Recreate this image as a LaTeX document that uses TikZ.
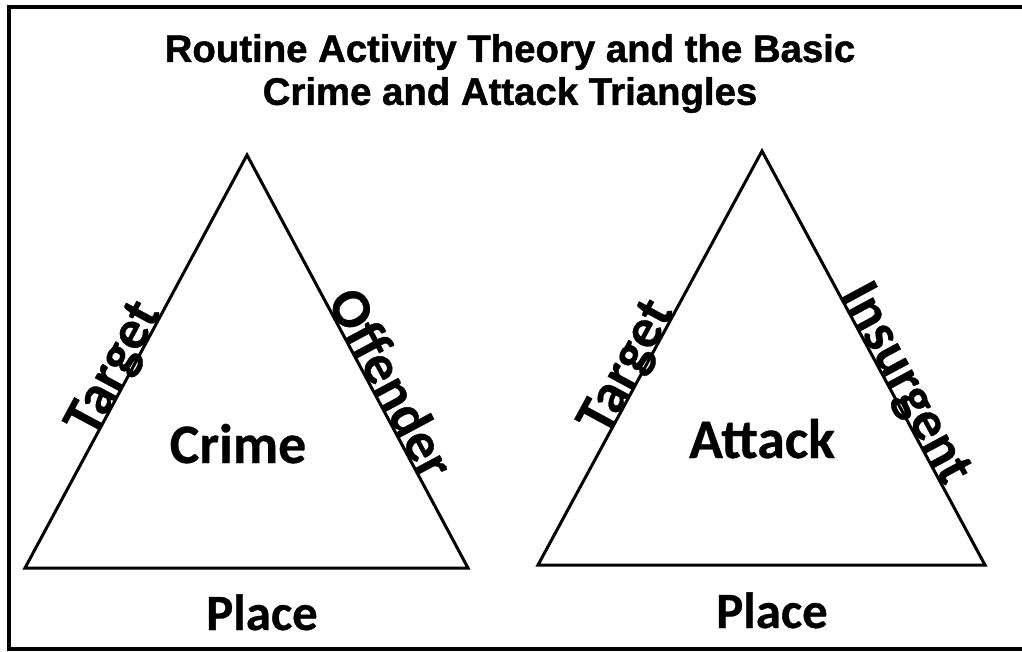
\documentclass[tikz,border=0pt]{standalone}
\usepackage{fontspec}
\setmainfont{Carlito}[BoldFeatures={FakeBold=0.6}]
\newfontfamily\titlefont{Liberation Sans}[BoldFeatures={FakeBold=1.2}]
\usetikzlibrary{positioning,calc}
\tikzset{
    frame/.style={line width=4bp, black},
    tri/.style={line width=3bp, black, line join=miter},
    title/.style={font=\titlefont\bfseries\fontsize{38.5}{43}\selectfont, align=center, inner sep=0pt},
    inner/.style={font=\bfseries\fontsize{56}{60}\selectfont, inner sep=0pt, anchor=base},
    placelabel/.style={font=\bfseries\fontsize{51}{56}\selectfont, inner sep=0pt, anchor=base},
    sidelabel/.style={font=\bfseries\fontsize{56}{60}\selectfont, sloped, above, text depth=0pt, inner sep=1pt},
}
\begin{document}
\begin{tikzpicture}[x=1bp, y=-1bp]
    \useasboundingbox (0,0) rectangle (1022,652);
    \draw[frame] (1022,7) -- (9,7) -- (9,649) -- (1022,649);
    \node[title, anchor=north] (title) at (510,34) {Routine Activity Theory and the Basic\\Crime and Attack Triangles};
    % crime triangle
    \coordinate (CL) at (25,568);
    \coordinate (CT) at (247,155);
    \coordinate (CR) at (468,568);
    \draw[tri] (CL) -- (CT) -- (CR) -- cycle;
    \path (CL) -- (CT) node[sidelabel, pos=0.465] (ctarget) {Target};
    \path (CT) -- (CR) node[sidelabel, pos=0.575] (coffender) {Offender};
    \node[inner] (crime) at (238,463) {Crime};
    \node[placelabel] (cplace) at (262,630) {Place};
    % attack triangle
    \coordinate (AL) at (538,565);
    \coordinate (AT) at (762,151);
    \coordinate (AR) at (985,565);
    \draw[tri] (AL) -- (AT) -- (AR) -- cycle;
    \path (AL) -- (AT) node[sidelabel, pos=0.46] (atarget) {Target};
    \path (AT) -- (AR) node[sidelabel, pos=0.58] (ainsurgent) {Insurgent};
    \node[inner] (attack) at (762,458) {Attack};
    \node[placelabel] (aplace) at (772,628) {Place};
\end{tikzpicture}
\end{document}
